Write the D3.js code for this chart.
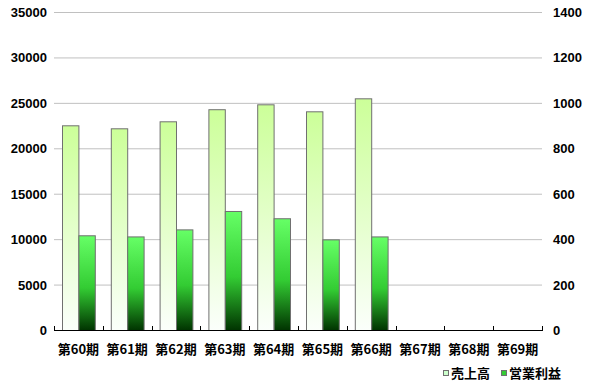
<!DOCTYPE html>
<html>
<head>
<meta charset="utf-8">
<script src="https://cdn.jsdelivr.net/npm/d3@7"></script>
<style>
  body { margin: 0; background: #fff; }
  svg text { font-family: "Liberation Sans", Arial, sans-serif; font-weight: bold; fill: #000; }
  .cjk { font-family: "Noto Sans CJK JP", sans-serif; }
</style>
</head>
<body>
<div id="chart"></div>
<script>
// data
const periods = ["第60期", "第61期", "第62期", "第63期", "第64期", "第65期", "第66期", "第67期", "第68期", "第69期"];
const sales = [22530, 22200, 22970, 24300, 24840, 24070, 25500, null, null, null];
const profit = [417, 412, 443, 524, 492, 399, 412, null, null, null];
const leftTicks = [0, 5000, 10000, 15000, 20000, 25000, 30000, 35000];
const rightTicks = [0, 200, 400, 600, 800, 1000, 1200, 1400];
const seriesNames = ["売上高", "営業利益"];

// layout
const W = 592, H = 389;
const PLOT = { left: 54, right: 542, top: 12, bottom: 330 };
const BAR_W = 16.4;

const svg = d3.select("#chart").append("svg")
  .attr("width", W).attr("height", H);

const defs = svg.append("defs");
const gSales = defs.append("linearGradient").attr("id", "gSales")
  .attr("x1", 0).attr("y1", 0).attr("x2", 0).attr("y2", 1);
gSales.append("stop").attr("offset", "0%").attr("stop-color", "#ccff99");
gSales.append("stop").attr("offset", "100%").attr("stop-color", "#fbfffb");
const gProfit = defs.append("linearGradient").attr("id", "gProfit")
  .attr("x1", 0).attr("y1", 0).attr("x2", 0).attr("y2", 1);
gProfit.append("stop").attr("offset", "0%").attr("stop-color", "#66ff66");
gProfit.append("stop").attr("offset", "55%").attr("stop-color", "#33cc33");
gProfit.append("stop").attr("offset", "100%").attr("stop-color", "#003300");

// scales
const x = d3.scaleBand().domain(periods).range([PLOT.left, PLOT.right]);
const yL = d3.scaleLinear().domain([0, 35000]).range([PLOT.bottom, PLOT.top]);
const yR = d3.scaleLinear().domain([0, 1400]).range([PLOT.bottom, PLOT.top]);

// gridlines
svg.append("g")
  .selectAll("line")
  .data(leftTicks.slice(1))
  .join("line")
  .attr("x1", PLOT.left).attr("x2", PLOT.right)
  .attr("y1", (d) => yL(d) + 0.5).attr("y2", (d) => yL(d) + 0.5)
  .attr("stroke", "#c0c0c0");

// left axis labels
svg.append("g")
  .selectAll("text")
  .data(leftTicks)
  .join("text")
  .attr("x", 47).attr("y", (d) => yL(d) + 5)
  .attr("text-anchor", "end")
  .attr("font-size", 13)
  .text((d) => d);

// right axis labels
svg.append("g")
  .selectAll("text")
  .data(rightTicks)
  .join("text")
  .attr("x", 553).attr("y", (d) => yR(d) + 5)
  .attr("text-anchor", "start")
  .attr("font-size", 13)
  .text((d) => d);

// bars
const groupOffset = (x.bandwidth() - BAR_W * 2) / 2;
const bars = svg.append("g");
bars.selectAll(".sales")
  .data(periods.map((p, i) => ({ p, v: sales[i] })).filter((d) => d.v != null))
  .join("rect")
  .attr("class", "sales")
  .attr("x", (d) => x(d.p) + groupOffset + 0.5)
  .attr("y", (d) => yL(d.v) + 0.5)
  .attr("width", BAR_W)
  .attr("height", (d) => yL(0) - yL(d.v))
  .attr("fill", "url(#gSales)")
  .attr("stroke", "#707070");
bars.selectAll(".profit")
  .data(periods.map((p, i) => ({ p, v: profit[i] })).filter((d) => d.v != null))
  .join("rect")
  .attr("class", "profit")
  .attr("x", (d) => x(d.p) + groupOffset + BAR_W + 0.5)
  .attr("y", (d) => yR(d.v) + 0.5)
  .attr("width", BAR_W)
  .attr("height", (d) => yR(0) - yR(d.v))
  .attr("fill", "url(#gProfit)")
  .attr("stroke", "#707070");

// bottom axis
const axisG = svg.append("g");
axisG.append("line")
  .attr("x1", PLOT.left).attr("x2", PLOT.right + 1)
  .attr("y1", PLOT.bottom + 0.5).attr("y2", PLOT.bottom + 0.5)
  .attr("stroke", "#000");
axisG.selectAll(".tk")
  .data(periods.map((p) => x(p)).concat([PLOT.right]))
  .join("line")
  .attr("x1", (d) => Math.round(d) + 0.5).attr("x2", (d) => Math.round(d) + 0.5)
  .attr("y1", PLOT.bottom - 4).attr("y2", PLOT.bottom)
  .attr("stroke", "#000");
axisG.selectAll("text")
  .data(periods)
  .join("text")
  .attr("class", "cjk")
  .attr("x", (d) => x(d) + x.bandwidth() / 2)
  .attr("y", 354)
  .attr("text-anchor", "middle")
  .attr("font-size", 13)
  .text((d) => d);

// legend
const legend = svg.append("g");
const legendItems = [
  { name: seriesNames[0], x: 443, fill: "#ccffcc" },
  { name: seriesNames[1], x: 501, fill: "#33cc33" },
];
legendItems.forEach((it) => {
  legend.append("rect")
    .attr("x", it.x + 0.5).attr("y", 370.5)
    .attr("width", 5).attr("height", 5)
    .attr("fill", it.fill).attr("stroke", "#707070");
  legend.append("text")
    .attr("class", "cjk")
    .attr("x", it.x + 8).attr("y", 378)
    .attr("font-size", 13)
    .text(it.name);
});
</script>
</body>
</html>
